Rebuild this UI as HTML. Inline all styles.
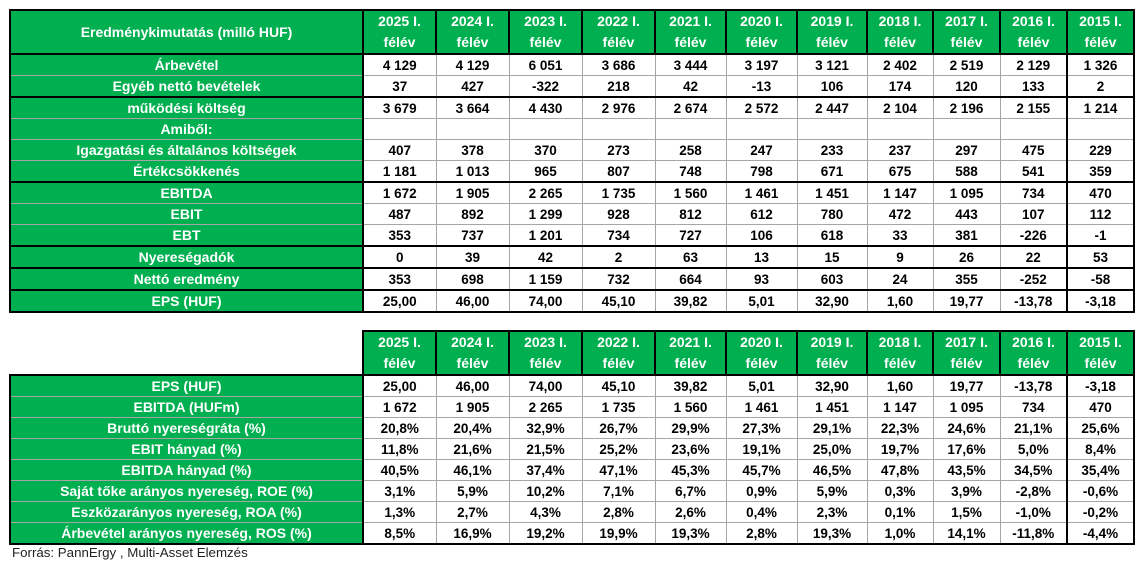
<!DOCTYPE html>
<html><head><meta charset="utf-8"><style>
body{margin:0;background:#fff;width:1146px;height:568px;overflow:hidden;position:relative;font-family:"Liberation Sans",sans-serif;}
table{border-collapse:collapse;table-layout:fixed;position:absolute;left:9px;}
td{border:1px solid #a6a6a6;text-align:center;font-weight:bold;font-size:13.5px;padding:0;color:#000;white-space:nowrap;overflow:hidden;}
td.l{background:#00b050;color:#fff;font-size:14px;}
tr.h td{background:#00b050;color:#fff;border:2px solid #000;line-height:21px;font-size:14px;}
td.k{border-right:2px solid #000;}
tr.t td{border-top:2px solid #000;}
tr.h td.e{border:none;border-right:2px solid #000;background:#fff;}
#t1{top:9px;}
#t2{top:330px;}
#t1 tr:not(.h) td{height:20px;}
#t2 tr:not(.h) td{height:20px;}
.src{position:absolute;left:12px;top:545px;font-size:13.3px;color:#222;}
</style></head><body>
<table id="t1" style="border:2px solid #000">
<colgroup><col style="width:353px"><col style="width:73px"><col style="width:73px"><col style="width:73px"><col style="width:73px"><col style="width:71px"><col style="width:71px"><col style="width:70px"><col style="width:66px"><col style="width:67px"><col style="width:67px"><col style="width:67px"></colgroup>
<tr class="h"><td>Eredménykimutatás (milló HUF)</td><td>2025 I.<br>félév</td><td>2024 I.<br>félév</td><td>2023 I.<br>félév</td><td>2022 I.<br>félév</td><td>2021 I.<br>félév</td><td>2020 I.<br>félév</td><td>2019 I.<br>félév</td><td>2018 I.<br>félév</td><td>2017 I.<br>félév</td><td>2016 I.<br>félév</td><td>2015 I.<br>félév</td></tr>
<tr><td class="l k">Árbevétel</td><td>4 129</td><td>4 129</td><td>6 051</td><td>3 686</td><td>3 444</td><td>3 197</td><td>3 121</td><td>2 402</td><td>2 519</td><td class="k">2 129</td><td>1 326</td></tr>
<tr><td class="l k">Egyéb nettó bevételek</td><td>37</td><td>427</td><td>-322</td><td>218</td><td>42</td><td>-13</td><td>106</td><td>174</td><td>120</td><td class="k">133</td><td>2</td></tr>
<tr class="t"><td class="l k">működési költség</td><td>3 679</td><td>3 664</td><td>4 430</td><td>2 976</td><td>2 674</td><td>2 572</td><td>2 447</td><td>2 104</td><td>2 196</td><td class="k">2 155</td><td>1 214</td></tr>
<tr><td class="l k">Amiből:</td><td></td><td></td><td></td><td></td><td></td><td></td><td></td><td></td><td></td><td class="k"></td><td></td></tr>
<tr><td class="l k">Igazgatási és általános költségek</td><td>407</td><td>378</td><td>370</td><td>273</td><td>258</td><td>247</td><td>233</td><td>237</td><td>297</td><td class="k">475</td><td>229</td></tr>
<tr><td class="l k">Értékcsökkenés</td><td>1 181</td><td>1 013</td><td>965</td><td>807</td><td>748</td><td>798</td><td>671</td><td>675</td><td>588</td><td class="k">541</td><td>359</td></tr>
<tr class="t"><td class="l k">EBITDA</td><td>1 672</td><td>1 905</td><td>2 265</td><td>1 735</td><td>1 560</td><td>1 461</td><td>1 451</td><td>1 147</td><td>1 095</td><td class="k">734</td><td>470</td></tr>
<tr><td class="l k">EBIT</td><td>487</td><td>892</td><td>1 299</td><td>928</td><td>812</td><td>612</td><td>780</td><td>472</td><td>443</td><td class="k">107</td><td>112</td></tr>
<tr><td class="l k">EBT</td><td>353</td><td>737</td><td>1 201</td><td>734</td><td>727</td><td>106</td><td>618</td><td>33</td><td>381</td><td class="k">-226</td><td>-1</td></tr>
<tr class="t"><td class="l k">Nyereségadók</td><td>0</td><td>39</td><td>42</td><td>2</td><td>63</td><td>13</td><td>15</td><td>9</td><td>26</td><td class="k">22</td><td>53</td></tr>
<tr class="t"><td class="l k">Nettó eredmény</td><td>353</td><td>698</td><td>1 159</td><td>732</td><td>664</td><td>93</td><td>603</td><td>24</td><td>355</td><td class="k">-252</td><td>-58</td></tr>
<tr class="t"><td class="l k">EPS (HUF)</td><td>25,00</td><td>46,00</td><td>74,00</td><td>45,10</td><td>39,82</td><td>5,01</td><td>32,90</td><td>1,60</td><td>19,77</td><td class="k">-13,78</td><td>-3,18</td></tr>
</table>

<table id="t2">
<colgroup><col style="width:353px"><col style="width:73px"><col style="width:73px"><col style="width:73px"><col style="width:73px"><col style="width:71px"><col style="width:71px"><col style="width:70px"><col style="width:66px"><col style="width:67px"><col style="width:67px"><col style="width:67px"></colgroup>
<tr class="h"><td class="e"></td><td>2025 I.<br>félév</td><td>2024 I.<br>félév</td><td>2023 I.<br>félév</td><td>2022 I.<br>félév</td><td>2021 I.<br>félév</td><td>2020 I.<br>félév</td><td>2019 I.<br>félév</td><td>2018 I.<br>félév</td><td>2017 I.<br>félév</td><td>2016 I.<br>félév</td><td>2015 I.<br>félév</td></tr>
<tr class="t"><td class="l k" style="border-left:2px solid #000">EPS (HUF)</td><td>25,00</td><td>46,00</td><td>74,00</td><td>45,10</td><td>39,82</td><td>5,01</td><td>32,90</td><td>1,60</td><td>19,77</td><td class="k">-13,78</td><td style="border-right:2px solid #000">-3,18</td></tr>
<tr><td class="l k" style="border-left:2px solid #000">EBITDA (HUFm)</td><td>1 672</td><td>1 905</td><td>2 265</td><td>1 735</td><td>1 560</td><td>1 461</td><td>1 451</td><td>1 147</td><td>1 095</td><td class="k">734</td><td style="border-right:2px solid #000">470</td></tr>
<tr><td class="l k" style="border-left:2px solid #000">Bruttó nyereségráta (%)</td><td>20,8%</td><td>20,4%</td><td>32,9%</td><td>26,7%</td><td>29,9%</td><td>27,3%</td><td>29,1%</td><td>22,3%</td><td>24,6%</td><td class="k">21,1%</td><td style="border-right:2px solid #000">25,6%</td></tr>
<tr><td class="l k" style="border-left:2px solid #000">EBIT hányad (%)</td><td>11,8%</td><td>21,6%</td><td>21,5%</td><td>25,2%</td><td>23,6%</td><td>19,1%</td><td>25,0%</td><td>19,7%</td><td>17,6%</td><td class="k">5,0%</td><td style="border-right:2px solid #000">8,4%</td></tr>
<tr><td class="l k" style="border-left:2px solid #000">EBITDA hányad (%)</td><td>40,5%</td><td>46,1%</td><td>37,4%</td><td>47,1%</td><td>45,3%</td><td>45,7%</td><td>46,5%</td><td>47,8%</td><td>43,5%</td><td class="k">34,5%</td><td style="border-right:2px solid #000">35,4%</td></tr>
<tr><td class="l k" style="border-left:2px solid #000">Saját tőke arányos nyereség, ROE (%)</td><td>3,1%</td><td>5,9%</td><td>10,2%</td><td>7,1%</td><td>6,7%</td><td>0,9%</td><td>5,9%</td><td>0,3%</td><td>3,9%</td><td class="k">-2,8%</td><td style="border-right:2px solid #000">-0,6%</td></tr>
<tr><td class="l k" style="border-left:2px solid #000">Eszközarányos nyereség, ROA (%)</td><td>1,3%</td><td>2,7%</td><td>4,3%</td><td>2,8%</td><td>2,6%</td><td>0,4%</td><td>2,3%</td><td>0,1%</td><td>1,5%</td><td class="k">-1,0%</td><td style="border-right:2px solid #000">-0,2%</td></tr>
<tr><td class="l k" style="border-left:2px solid #000;border-bottom:2px solid #000">Árbevétel arányos nyereség, ROS (%)</td><td style="border-bottom:2px solid #000">8,5%</td><td style="border-bottom:2px solid #000">16,9%</td><td style="border-bottom:2px solid #000">19,2%</td><td style="border-bottom:2px solid #000">19,9%</td><td style="border-bottom:2px solid #000">19,3%</td><td style="border-bottom:2px solid #000">2,8%</td><td style="border-bottom:2px solid #000">19,3%</td><td style="border-bottom:2px solid #000">1,0%</td><td style="border-bottom:2px solid #000">14,1%</td><td class="k" style="border-bottom:2px solid #000">-11,8%</td><td style="border-right:2px solid #000;border-bottom:2px solid #000">-4,4%</td></tr>
</table>
<div class="src">Forrás: PannErgy , Multi-Asset Elemzés</div>
</body></html>
